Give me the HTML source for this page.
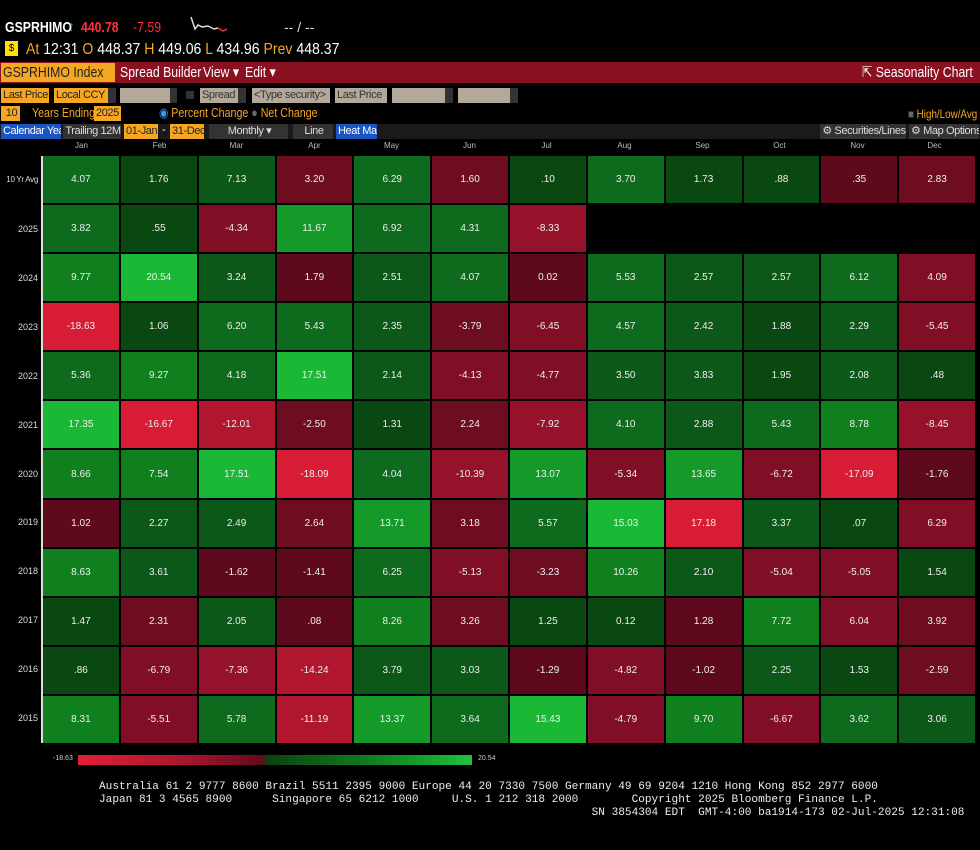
<!DOCTYPE html>
<html><head><meta charset="utf-8">
<style>
body{margin:0;background:#000;width:980px;height:850px;overflow:hidden;position:relative;font-family:"Liberation Sans",sans-serif;color:#fff}
.a{position:absolute;white-space:nowrap}
.n{transform:scaleX(0.82);transform-origin:0 50%}
.box{position:absolute;height:15px;font-size:11px;line-height:15px;padding-left:2px;box-sizing:border-box;white-space:nowrap;overflow:hidden;letter-spacing:-0.4px}
.or{background:#f5a623;color:#222}
.gr{background:#b3a89a;color:#333}
.dk{background:#333;color:#ddd;text-align:center}
.ol{color:#f5a623}
#grid{position:absolute;left:43px;top:156px;width:932px;height:587px;display:grid;grid-template-columns:repeat(12,1fr);grid-template-rows:repeat(12,1fr);gap:2px;background:#000}
#grid div{display:flex;align-items:center;justify-content:center;font-size:10px;color:#eee}
.g1{background:#0a4812}.g2{background:#0c5818}.g3{background:#0e6a1c}.g4{background:#10801f}.g5{background:#139a28}.g6{background:#1ab834}
.r1{background:#5e0a1c}.r2{background:#6e0c20}.r3{background:#800f26}.r4{background:#96122a}.r5{background:#b0162e}.r6{background:#d81c34}
.e{background:#000}
.rl{position:absolute;right:942px;font-size:9px;color:#ddd;text-align:right;white-space:nowrap}
.ch{position:absolute;top:141px;font-size:8px;color:#bbb;width:77px;text-align:center}
.ft{position:absolute;left:99px;font-family:"Liberation Mono",monospace;font-size:11.1px;color:#eee;white-space:pre}
</style></head><body>
<div class="a n" style="left:5px;top:19px;font-size:15px;font-weight:bold">GSPRHIMO</div>
<div class="a" style="left:68px;top:18px;font-size:14px;color:#1db954">↑</div>
<div class="a n" style="left:81px;top:19px;font-size:15px;font-weight:bold;color:#ff3040">440.78</div>
<div class="a n" style="left:133px;top:19px;font-size:15px;color:#ff3040">-7.59</div>
<svg class="a" style="left:190px;top:15px" width="45" height="22"><polyline points="1,2 5,14 8,10 12,12 18,11 24,14 28,13" fill="none" stroke="#ddd" stroke-width="1.5"/><polyline points="28,13 33,16 37,14" fill="none" stroke="#e33" stroke-width="1.5"/></svg>
<div class="a" style="left:284px;top:19px;font-size:14px;color:#ddd">-- / --</div>
<div class="a" style="left:5px;top:41px;width:13px;height:15px;background:#ffe000;color:#000;font-size:10px;text-align:center;line-height:15px">$</div>
<div class="a n" style="left:26px;top:41px;font-size:16px;transform:scaleX(0.88)"><span class="ol">At</span> 12:31 <span class="ol">O</span> 448.37 <span class="ol">H</span> 449.06 <span class="ol">L</span> 434.96 <span class="ol">Prev</span> 448.37</div>
<div class="a" style="left:0;top:62px;width:980px;height:21px;background:#8b1020"></div>
<div class="a or" style="left:1px;top:63px;width:114px;height:19px"></div>
<div class="a n" style="left:3px;top:63px;font-size:15px;line-height:19px;color:#222">GSPRHIMO Index</div>
<div class="a n" style="left:120px;top:63px;font-size:15px;line-height:19px">Spread Builder</div>
<div class="a n" style="left:203px;top:63px;font-size:15px;line-height:19px">View ▾</div>
<div class="a n" style="left:245px;top:63px;font-size:15px;line-height:19px">Edit ▾</div>
<div class="a n" style="left:862px;top:63px;font-size:15px;line-height:19px">⇱ Seasonality Chart</div>
<div class="box or" style="left:1px;top:88px;width:48px">Last Price</div>
<div class="box or" style="left:54px;top:88px;width:54px">Local CCY</div>
<div class="box dk" style="left:108px;top:88px;width:8px"></div>
<div class="box gr" style="left:120px;top:88px;width:50px"></div>
<div class="box dk" style="left:170px;top:88px;width:7px"></div>
<div class="box dk" style="left:186px;top:91px;width:8px;height:8px"></div>
<div class="box gr" style="left:200px;top:88px;width:38px">Spread</div>
<div class="box dk" style="left:238px;top:88px;width:8px"></div>
<div class="box gr" style="left:252px;top:88px;width:78px">&lt;Type security&gt;</div>
<div class="box gr" style="left:335px;top:88px;width:52px">Last Price</div>
<div class="box gr" style="left:392px;top:88px;width:53px"></div>
<div class="box dk" style="left:445px;top:88px;width:8px"></div>
<div class="box gr" style="left:458px;top:88px;width:52px"></div>
<div class="box dk" style="left:510px;top:88px;width:8px"></div>
<div class="box or" style="left:1px;top:106px;width:19px;text-align:center">10</div>
<div class="a n ol" style="left:32px;top:105px;font-size:13px">Years Ending</div>
<div class="box or" style="left:94px;top:106px;width:27px">2025</div>
<div class="a n" style="left:159px;top:105px;font-size:13px"><span style="color:#39f">◉</span> <span class="ol">Percent Change</span> <span style="color:#666">●</span> <span class="ol">Net Change</span></div>
<div class="a n ol" style="left:908px;top:107px;font-size:12px"><span style="color:#666">■</span> High/Low/Avg</div>
<div class="a" style="left:0;top:124px;width:980px;height:15px;background:#1a1a1a"></div>
<div class="box" style="left:1px;top:124px;width:60px;background:#1b55c0">Calendar Year</div>
<div class="box dk" style="left:63px;top:124px;width:58px">Trailing 12M</div>
<div class="box or" style="left:124px;top:124px;width:34px">01-Jan</div>
<div class="a" style="left:162px;top:124px;font-size:11px">-</div>
<div class="box or" style="left:170px;top:124px;width:34px">31-Dec</div>
<div class="box dk" style="left:209px;top:124px;width:79px">Monthly ▾</div>
<div class="box dk" style="left:293px;top:124px;width:40px">Line</div>
<div class="box" style="left:336px;top:124px;width:41px;background:#1b55c0">Heat Map</div>
<div class="box dk" style="left:820px;top:124px;width:86px">⚙ Securities/Lines</div>
<div class="box dk" style="left:909px;top:124px;width:70px">⚙ Map Options</div>
<div class="ch" style="left:43px">Jan</div><div class="ch" style="left:121px">Feb</div><div class="ch" style="left:198px">Mar</div><div class="ch" style="left:276px">Apr</div><div class="ch" style="left:353px">May</div><div class="ch" style="left:431px">Jun</div><div class="ch" style="left:508px">Jul</div><div class="ch" style="left:586px">Aug</div><div class="ch" style="left:664px">Sep</div><div class="ch" style="left:741px">Oct</div><div class="ch" style="left:819px">Nov</div><div class="ch" style="left:896px">Dec</div>
<div class="a" style="left:41px;top:156px;width:2px;height:587px;background:#ddd"></div>
<div class="rl" style="top:175px;font-size:8px;letter-spacing:-0.3px">10 Yr Avg</div><div class="rl" style="top:224px">2025</div><div class="rl" style="top:273px">2024</div><div class="rl" style="top:322px">2023</div><div class="rl" style="top:371px">2022</div><div class="rl" style="top:420px">2021</div><div class="rl" style="top:469px">2020</div><div class="rl" style="top:517px">2019</div><div class="rl" style="top:566px">2018</div><div class="rl" style="top:615px">2017</div><div class="rl" style="top:664px">2016</div><div class="rl" style="top:713px">2015</div>
<div id="grid">
<div class="g3">4.07</div><div class="g1">1.76</div><div class="g2">7.13</div><div class="r2">3.20</div><div class="g3">6.29</div><div class="r2">1.60</div><div class="g1">.10</div><div class="g3">3.70</div><div class="g1">1.73</div><div class="g1">.88</div><div class="r1">.35</div><div class="r2">2.83</div>
<div class="g3">3.82</div><div class="g1">.55</div><div class="r3">-4.34</div><div class="g5">11.67</div><div class="g3">6.92</div><div class="g3">4.31</div><div class="r4">-8.33</div><div class="e"></div><div class="e"></div><div class="e"></div><div class="e"></div><div class="e"></div>
<div class="g4">9.77</div><div class="g6">20.54</div><div class="g2">3.24</div><div class="r1">1.79</div><div class="g2">2.51</div><div class="g3">4.07</div><div class="r1">0.02</div><div class="g3">5.53</div><div class="g2">2.57</div><div class="g2">2.57</div><div class="g3">6.12</div><div class="r3">4.09</div>
<div class="r6">-18.63</div><div class="g1">1.06</div><div class="g3">6.20</div><div class="g3">5.43</div><div class="g2">2.35</div><div class="r2">-3.79</div><div class="r3">-6.45</div><div class="g3">4.57</div><div class="g2">2.42</div><div class="g1">1.88</div><div class="g2">2.29</div><div class="r3">-5.45</div>
<div class="g3">5.36</div><div class="g4">9.27</div><div class="g3">4.18</div><div class="g6">17.51</div><div class="g2">2.14</div><div class="r3">-4.13</div><div class="r3">-4.77</div><div class="g2">3.50</div><div class="g2">3.83</div><div class="g1">1.95</div><div class="g2">2.08</div><div class="g1">.48</div>
<div class="g6">17.35</div><div class="r6">-16.67</div><div class="r5">-12.01</div><div class="r2">-2.50</div><div class="g1">1.31</div><div class="r2">2.24</div><div class="r4">-7.92</div><div class="g3">4.10</div><div class="g2">2.88</div><div class="g3">5.43</div><div class="g4">8.78</div><div class="r4">-8.45</div>
<div class="g4">8.66</div><div class="g4">7.54</div><div class="g6">17.51</div><div class="r6">-18.09</div><div class="g3">4.04</div><div class="r4">-10.39</div><div class="g5">13.07</div><div class="r3">-5.34</div><div class="g5">13.65</div><div class="r3">-6.72</div><div class="r6">-17.09</div><div class="r1">-1.76</div>
<div class="r1">1.02</div><div class="g2">2.27</div><div class="g2">2.49</div><div class="r2">2.64</div><div class="g5">13.71</div><div class="r2">3.18</div><div class="g3">5.57</div><div class="g6">15.03</div><div class="r6">17.18</div><div class="g2">3.37</div><div class="g1">.07</div><div class="r3">6.29</div>
<div class="g4">8.63</div><div class="g2">3.61</div><div class="r1">-1.62</div><div class="r1">-1.41</div><div class="g3">6.25</div><div class="r3">-5.13</div><div class="r2">-3.23</div><div class="g4">10.26</div><div class="g2">2.10</div><div class="r3">-5.04</div><div class="r3">-5.05</div><div class="g1">1.54</div>
<div class="g1">1.47</div><div class="r2">2.31</div><div class="g2">2.05</div><div class="r1">.08</div><div class="g4">8.26</div><div class="r2">3.26</div><div class="g1">1.25</div><div class="g1">0.12</div><div class="r1">1.28</div><div class="g4">7.72</div><div class="r3">6.04</div><div class="r2">3.92</div>
<div class="g1">.86</div><div class="r3">-6.79</div><div class="r4">-7.36</div><div class="r5">-14.24</div><div class="g2">3.79</div><div class="g2">3.03</div><div class="r1">-1.29</div><div class="r3">-4.82</div><div class="r1">-1.02</div><div class="g2">2.25</div><div class="g1">1.53</div><div class="r2">-2.59</div>
<div class="g4">8.31</div><div class="r3">-5.51</div><div class="g3">5.78</div><div class="r5">-11.19</div><div class="g5">13.37</div><div class="g3">3.64</div><div class="g6">15.43</div><div class="r3">-4.79</div><div class="g4">9.70</div><div class="r3">-6.67</div><div class="g3">3.62</div><div class="g2">3.06</div>
</div>
<div class="a" style="left:53px;top:755px;font-size:7px;color:#ccc">-18.63</div>
<div class="a" style="left:78px;top:755px;width:394px;height:10px;background:linear-gradient(90deg,#e61e36 0%,#b0162e 25%,#650a1e 47%,#0a4510 48%,#10801f 75%,#1ec23c 100%)"></div>
<div class="a" style="left:478px;top:755px;font-size:7px;color:#ccc">20.54</div>
<div class="ft" style="top:781px">Australia 61 2 9777 8600 Brazil 5511 2395 9000 Europe 44 20 7330 7500 Germany 49 69 9204 1210 Hong Kong 852 2977 6000</div>
<div class="ft" style="top:794px">Japan 81 3 4565 8900      Singapore 65 6212 1000     U.S. 1 212 318 2000        Copyright 2025 Bloomberg Finance L.P.</div>
<div class="ft" style="top:807px">                                                                          SN 3854304 EDT  GMT-4:00 ba1914-173 02-Jul-2025 12:31:08</div>
</body></html>
